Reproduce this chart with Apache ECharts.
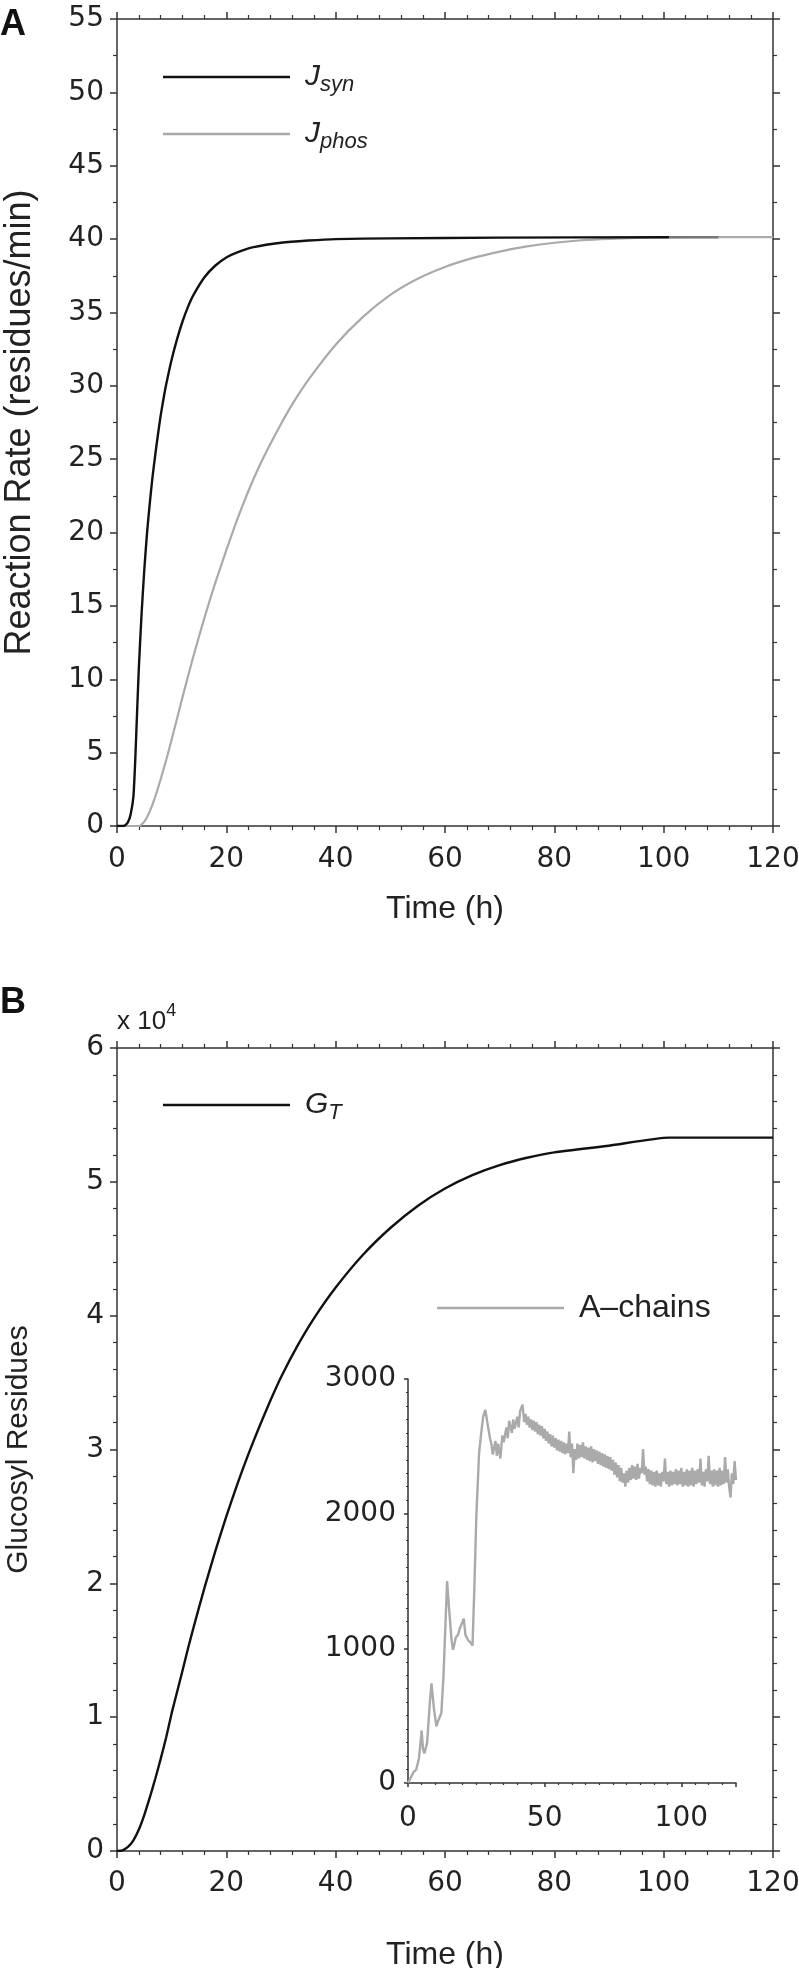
<!DOCTYPE html>
<html>
<head>
<meta charset="utf-8">
<script src="https://cdn.jsdelivr.net/npm/echarts@6/dist/echarts.min.js"></script>
<style>
  html, body { margin: 0; padding: 0; background: #fff; }
  #chart { width: 799px; height: 1968px; }
</style>
</head>
<body>
<div id="chart"></div>
<script>
// panel A: reaction rates (residues/min) vs time (h)
const tSyn = [0, 1, 1.5, 2, 2.5, 3, 3.35, 3.7, 4, 4.5, 5, 5.5, 6, 6.5, 7, 7.5, 8, 8.5, 9, 10, 11, 12, 13, 14, 16, 18, 20, 22, 25, 30, 35, 40, 50, 70, 101, 110];
const jSyn = [0, 0, 0.05, 0.25, 0.8, 2, 4.6, 8, 10.8, 14.5, 17.5, 20, 22, 23.8, 25.3, 26.7, 28, 29.1, 30.1, 31.8, 33.2, 34.4, 35.4, 36.2, 37.4, 38.2, 38.75, 39.1, 39.45, 39.75, 39.9, 40, 40.05, 40.1, 40.13, 40.13];

const tPhos = [0, 4, 5, 6, 7, 8, 9, 10, 12, 14, 16, 18, 20, 22, 24, 26, 28, 30, 32, 35, 40, 45, 50, 55, 60, 65, 70, 75, 80, 85, 90, 95, 100, 110, 120];
const jPhos = [0, 0, 0.3, 1, 2, 3.2, 4.5, 5.9, 8.8, 11.6, 14.2, 16.6, 18.8, 20.9, 22.8, 24.5, 26, 27.4, 28.7, 30.4, 32.8, 34.7, 36.2, 37.3, 38.1, 38.7, 39.15, 39.5, 39.75, 39.92, 40.02, 40.08, 40.12, 40.13, 40.13];

// panel B: total glucosyl residues (x 10^4)
const tG = [0, 1, 2, 3, 4, 5, 6, 7, 8, 9, 10, 11, 12, 13, 14, 16, 18, 20, 22, 24, 26, 28, 30, 33, 36, 40, 45, 50, 55, 60, 65, 70, 75, 80, 90, 101, 120];
const gT = [0, 0.005, 0.03, 0.08, 0.16, 0.27, 0.4, 0.54, 0.69, 0.85, 1.03, 1.19, 1.35, 1.515, 1.67, 1.966, 2.242, 2.5, 2.74, 2.962, 3.166, 3.36, 3.54, 3.774, 3.978, 4.21, 4.455, 4.655, 4.82, 4.95, 5.05, 5.125, 5.18, 5.22, 5.27, 5.33, 5.33];

// inset: A-chains, early part (irregular samples)
const tAEarly = [0, 1, 2, 3, 4, 4.5, 5, 5.5, 6, 7, 8, 8.6, 9.5, 10.4, 11, 12.2, 13, 14.3, 15, 16, 16.5, 17.5, 18.3, 19, 20.4, 21, 22, 23, 23.6, 24.2, 25, 26, 26.8, 27.5, 28.3, 29, 30, 30.5, 31, 32, 32.5, 33, 33.8, 34.5, 35, 36, 36.5, 37, 38, 38.5, 39, 40, 40.5, 41, 41.9, 42.5];
const aEarly = [0, 40, 80, 100, 180, 170, 390, 250, 220, 300, 600, 740, 550, 420, 460, 520, 800, 1500, 1300, 1050, 990, 1080, 1100, 1150, 1220, 1100, 1060, 1040, 1020, 1400, 1980, 2450, 2600, 2720, 2770, 2680, 2560, 2520, 2440, 2540, 2430, 2520, 2410, 2580, 2530, 2640, 2560, 2690, 2600, 2700, 2630, 2720, 2640, 2760, 2810, 2680];
// A-chains from 43 h on, one reading every half hour
const aLate = [
  2740, 2660, 2720, 2640, 2700, 2620, 2690, 2610, 2680, 2590, 2660, 2580, 2650, 2560, 2630, 2540,
  2610, 2520, 2590, 2500, 2580, 2490, 2560, 2470, 2550, 2460, 2540, 2450, 2530, 2440, 2520, 2450,
  2610, 2420, 2520, 2300, 2480, 2400, 2520, 2410, 2510, 2420, 2530, 2410, 2500, 2400, 2490, 2390,
  2500, 2380, 2480, 2390, 2470, 2370, 2460, 2360, 2450, 2350, 2440, 2340, 2430, 2330, 2420, 2320,
  2400, 2290, 2380, 2270, 2360, 2240, 2340, 2230, 2300, 2200, 2320, 2230, 2340, 2250, 2360, 2260,
  2350, 2250, 2370, 2260, 2340, 2300, 2480, 2290, 2350, 2240, 2330, 2220, 2320, 2210, 2310, 2200,
  2320, 2210, 2300, 2200, 2310, 2240, 2410, 2220, 2310, 2200, 2320, 2210, 2310, 2220, 2330, 2210,
  2320, 2220, 2340, 2200, 2310, 2210, 2330, 2200, 2320, 2210, 2340, 2200, 2320, 2220, 2330, 2230,
  2410, 2210, 2310, 2200, 2330, 2240, 2430, 2220, 2320, 2200, 2330, 2210, 2320, 2200, 2340, 2210,
  2320, 2220, 2420, 2230, 2330, 2200, 2120, 2300, 2220, 2390, 2250
];
const tALate = aLate.map((_, i) => 43 + i * 0.5);

const pairs = (xs, ys) => xs.map((x, i) => [x, ys[i]]);

const FONT = 'Liberation Sans';
const TICK_FONT = 'DejaVu Sans';
const AXIS_COLOR = '#333';
const BLACK = '#111';
const GREY = '#aaaaaa';
const SYN_END = 101; // past this the Jsyn trace is drawn dark grey

function tickStyle(len) {
  return { show: true, length: len, lineStyle: { color: AXIS_COLOR, width: 1.5 } };
}
function minorStyle(split, len) {
  return { show: true, splitNumber: split, length: len, lineStyle: { color: AXIS_COLOR, width: 1.2 } };
}
function labelStyle(margin, extra) {
  return Object.assign({ show: true, color: '#222', fontSize: 28, fontFamily: TICK_FONT, margin: margin }, extra);
}

function valAxis(opt) {
  return Object.assign({
    type: 'value',
    axisLine: { show: true, onZero: false, lineStyle: { color: AXIS_COLOR, width: 1.5 } },
    axisTick: tickStyle(7),
    splitLine: { show: false },
    axisLabel: labelStyle(13),
    nameTextStyle: { color: '#222', fontSize: 32, fontFamily: FONT }
  }, opt);
}

const chart = echarts.init(document.getElementById('chart'));

const legendText = {
  Jsyn: '{i|J}{s|syn}',
  Jphos: '{i|J}{s|phos}',
  GT: '{i|G}{s|T}',
  'A-chains': 'A\u2013chains'
};
const legendRich = {
  i: { fontStyle: 'italic', fontSize: 30, fontFamily: FONT, color: '#222' },
  s: { fontStyle: 'italic', fontSize: 22, fontFamily: FONT, color: '#222', padding: [16, 0, 0, 0] }
};
function legendAt(name, left, top, size, color) {
  return {
    data: [{ name: name, itemStyle: { color: color } }], left: left, top: top, orient: 'vertical', padding: 0,
    icon: 'rect', itemWidth: 127, itemHeight: 2.6, selectedMode: false,
    formatter: n => legendText[n],
    textStyle: { fontSize: size || 30, fontFamily: FONT, color: '#222', padding: [0, 0, 0, 10], rich: legendRich }
  };
}

const synPts = pairs(tSyn, jSyn);

const option = {
  animation: false,
  backgroundColor: '#fff',
  grid: [
    { left: 117, top: 19, width: 656, height: 807, containLabel: false, outerBoundsMode: 'none' },
    { left: 117, top: 1048, width: 656, height: 803, containLabel: false, outerBoundsMode: 'none' },
    { left: 408, top: 1379, width: 328, height: 404, containLabel: false, outerBoundsMode: 'none' }
  ],
  xAxis: [
    valAxis({ gridIndex: 0, position: 'bottom', min: 0, max: 120, interval: 20, minorTick: minorStyle(5, 4), axisLabel: labelStyle(20),
      name: 'Time (h)', nameLocation: 'middle', nameGap: 67 }),
    valAxis({ gridIndex: 0, position: 'top', min: 0, max: 120, interval: 20, axisLabel: { show: false }, minorTick: minorStyle(5, 4) }),
    valAxis({ gridIndex: 1, position: 'bottom', min: 0, max: 120, interval: 20, minorTick: minorStyle(5, 4), axisLabel: labelStyle(19),
      name: 'Time (h)', nameLocation: 'middle', nameGap: 88 }),
    valAxis({ gridIndex: 1, position: 'top', min: 0, max: 120, interval: 20, axisLabel: { show: false }, minorTick: minorStyle(5, 4) }),
    valAxis({ gridIndex: 2, position: 'bottom', min: 0, max: 120, interval: 50,
      axisLabel: labelStyle(22, { showMaxLabel: false }),
      axisTick: tickStyle(4), minorTick: minorStyle(10, 2) })
  ],
  yAxis: [
    valAxis({ gridIndex: 0, position: 'left', min: 0, max: 55, interval: 5, minorTick: minorStyle(2, 4),
      name: 'Reaction Rate (residues/min)', nameLocation: 'middle', nameGap: 79,
      nameTextStyle: { color: '#222', fontSize: 36, fontFamily: FONT } }),
    valAxis({ gridIndex: 0, position: 'right', min: 0, max: 55, interval: 5, axisLabel: { show: false }, minorTick: minorStyle(2, 4) }),
    valAxis({ gridIndex: 1, position: 'left', min: 0, max: 6, interval: 1, minorTick: minorStyle(5, 4),
      name: 'Glucosyl Residues', nameLocation: 'middle', nameGap: 83,
      nameTextStyle: { color: '#222', fontSize: 30, fontFamily: FONT } }),
    valAxis({ gridIndex: 1, position: 'right', min: 0, max: 6, interval: 1, axisLabel: { show: false }, minorTick: minorStyle(5, 4) }),
    valAxis({ gridIndex: 2, position: 'left', min: 0, max: 3000, interval: 1000,
      axisLabel: labelStyle(12, { formatter: v => String(v) }),
      axisTick: tickStyle(4), minorTick: minorStyle(10, 2) })
  ],
  legend: [
    legendAt('Jsyn', 163, 62, 30, BLACK),
    legendAt('Jphos', 163, 119, 30, GREY),
    legendAt('GT', 163, 1090, 30, BLACK),
    legendAt('A-chains', 437, 1292, 32, GREY)
  ],
  graphic: [
    { type: 'text', left: 0, top: 7, style: { text: 'A', font: 'bold 36px "Liberation Sans"', fill: '#111' } },
    { type: 'text', left: 0, top: 985, style: { text: 'B', font: 'bold 36px "Liberation Sans"', fill: '#111' } },
    { type: 'text', left: 117, top: 1002, style: {
      text: '{a|x 10}{b|4}',
      rich: {
        a: { fontSize: 26, fontFamily: FONT, fill: '#222', padding: [10, 0, 0, 0] },
        b: { fontSize: 18, fontFamily: FONT, fill: '#222', padding: [0, 0, 12, 0] }
      }
    } }
  ],
  series: [
    { name: 'Jphos', type: 'line', xAxisIndex: 0, yAxisIndex: 0, data: pairs(tPhos, jPhos), symbol: 'none', smooth: 0.2,
      lineStyle: { color: GREY, width: 2.2 }, itemStyle: { color: GREY }, z: 2 },
    { name: 'Jsyn', type: 'line', xAxisIndex: 0, yAxisIndex: 0, data: synPts.filter(p => p[0] <= SYN_END), symbol: 'none', smooth: 0.2,
      lineStyle: { color: BLACK, width: 2.4 }, itemStyle: { color: BLACK }, z: 3 },
    { name: 'Jsyn', type: 'line', xAxisIndex: 0, yAxisIndex: 0, data: synPts.filter(p => p[0] >= SYN_END), symbol: 'none',
      lineStyle: { color: '#777', width: 2.4 }, itemStyle: { color: '#777' }, z: 3 },
    { name: 'GT', type: 'line', xAxisIndex: 2, yAxisIndex: 2, data: pairs(tG, gT), symbol: 'none', smooth: 0.2,
      lineStyle: { color: BLACK, width: 2.4 }, itemStyle: { color: BLACK } },
    { name: 'A-chains', type: 'line', xAxisIndex: 4, yAxisIndex: 4, data: pairs(tAEarly, aEarly).concat(pairs(tALate, aLate)), symbol: 'none',
      lineStyle: { color: GREY, width: 2.4 }, itemStyle: { color: GREY } }
  ]
};

chart.setOption(option);
</script>
</body>
</html>
